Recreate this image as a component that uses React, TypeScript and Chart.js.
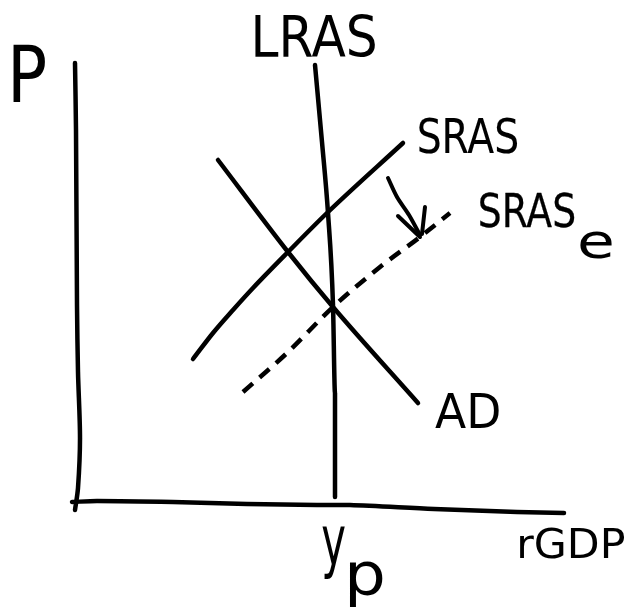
import React, { useEffect, useRef } from "react";
import { Chart, registerables } from "chart.js";

Chart.register(...registerables);

type Pt = { x: number; y: number };

const priceAxis: Pt[] = [
  { x: 0, y: 439 }, { x: 1, y: 372 }, { x: 2, y: 197 }, { x: 3, y: 130 },
  { x: 5, y: 64 }, { x: 3, y: 14 }, { x: 0, y: -8 },
];
const gdpAxis: Pt[] = [
  { x: -3, y: 0 }, { x: 22, y: 1 }, { x: 98, y: 0 }, { x: 172, y: -2 },
  { x: 242, y: -3 }, { x: 275, y: -3 }, { x: 359, y: -7 }, { x: 442, y: -10 }, { x: 489, y: -11 },
];
const lras: Pt[] = [
  { x: 240, y: 437 }, { x: 247, y: 360 }, { x: 253, y: 289 }, { x: 258, y: 197 },
  { x: 260, y: 109 }, { x: 260, y: 5 },
];
const sras: Pt[] = [
  { x: 118, y: 143 }, { x: 138, y: 169 }, { x: 158, y: 192 }, { x: 178, y: 214 },
  { x: 215, y: 252 }, { x: 252, y: 289 }, { x: 328, y: 359 },
];
const ad: Pt[] = [
  { x: 143, y: 342 }, { x: 213, y: 250 }, { x: 258, y: 195 }, { x: 343, y: 99 },
];
const srasE: Pt[] = [
  { x: 168, y: 110 }, { x: 212, y: 149 }, { x: 258, y: 195 }, { x: 305, y: 235 },
  { x: 345, y: 265 }, { x: 375, y: 289 },
];
const arrowShaft: Pt[] = [
  { x: 313, y: 324 }, { x: 322, y: 305 }, { x: 334, y: 287 }, { x: 345, y: 267 },
];
const arrowLeft: Pt[] = [{ x: 323, y: 286 }, { x: 345, y: 265 }];
const arrowRight: Pt[] = [{ x: 350, y: 295 }, { x: 347, y: 268 }];

// Labels: text with its box [left, right, top, bottom] in data units
const labelTexts = ["P", "LRAS", "SRAS", "SRAS", "e", "AD", "y", "p", "rGDP"];
const labelBoxes: number[][] = [
  [-62, -30, 457, 399],
  [180, 300, 487, 444],
  [344, 442, 385, 349],
  [405, 499, 310, 275],
  [505, 537, 272, 244],
  [360, 424, 109, 74],
  [247, 270, -25, -78],
  [275, 308, -60, -105],
  [445, 549, -25, -56],
];

const labelPlugin = {
  id: "sketchLabels",
  afterDatasetsDraw(chart: any) {
    const ctx: CanvasRenderingContext2D = chart.ctx;
    const xs = chart.scales.x;
    const ys = chart.scales.y;
    ctx.save();
    ctx.fillStyle = "#000";
    ctx.strokeStyle = "#000";
    ctx.font = '100px "DejaVu Sans"';
    ctx.textBaseline = "alphabetic";
    ctx.textAlign = "left";
    labelTexts.forEach((t, i) => {
      const [l, r, top, bot] = labelBoxes[i];
      const x0 = xs.getPixelForValue(l);
      const x1 = xs.getPixelForValue(r);
      const y0 = ys.getPixelForValue(top);
      const y1 = ys.getPixelForValue(bot);
      const m = ctx.measureText(t);
      const w = m.actualBoundingBoxLeft + m.actualBoundingBoxRight;
      const h = m.actualBoundingBoxAscent + m.actualBoundingBoxDescent;
      const sx = (x1 - x0) / w;
      const sy = (y1 - y0) / h;
      ctx.save();
      ctx.translate(x0 + m.actualBoundingBoxLeft * sx, y0 + m.actualBoundingBoxAscent * sy);
      ctx.scale(sx, sy);
      ctx.fillText(t, 0, 0);
      const extra = (4 - 10 * sx) / sx;
      if (extra > 0) {
        ctx.lineWidth = extra;
        ctx.lineJoin = "round";
        ctx.strokeText(t, 0, 0);
      }
      ctx.restore();
    });
    ctx.restore();
  },
};

function line(data: Pt[], width = 4, tension = 0.3, dash: number[] = [], mono = false) {
  return {
    data,
    showLine: true,
    borderColor: "#000",
    backgroundColor: "#000",
    borderWidth: width,
    pointRadius: 0,
    pointHoverRadius: 0,
    tension,
    cubicInterpolationMode: mono ? "monotone" : "default",
    borderDash: dash,
    borderCapStyle: dash.length ? "butt" : "round",
    borderJoinStyle: "round",
    fill: false,
  };
}

export default function App() {
  const ref = useRef<HTMLCanvasElement>(null);
  useEffect(() => {
    if (!ref.current) return;
    const chart = new Chart(ref.current, {
      type: "scatter",
      data: {
        datasets: [
          line(priceAxis, 4.5, 0.3),
          line(gdpAxis, 4.5, 0.3),
          line(lras, 4.5, 0.3, [], true),
          line(sras, 4.5, 0.3, [], true),
          line(ad, 4.5, 0.2, [], true),
          line(srasE, 4.5, 0.3, [13, 9], true),
          line(arrowShaft, 4, 0.3),
          line(arrowLeft, 4, 0),
          line(arrowRight, 4, 0),
        ] as any,
      },
      options: {
        animation: false,
        responsive: false,
        maintainAspectRatio: false,
        layout: { padding: 0 },
        plugins: { legend: { display: false }, tooltip: { enabled: false } },
        events: [],
        scales: {
          x: { type: "linear", min: -75, max: 559, display: false },
          y: { type: "linear", min: -107, max: 502, display: false },
        },
      },
      plugins: [labelPlugin],
    });
    return () => chart.destroy();
  }, []);
  return (
    <div style={{ position: "fixed", left: 0, top: 0, width: 634, height: 609, background: "#fff" }}>
      <canvas ref={ref} width={634} height={609} />
    </div>
  );
}
